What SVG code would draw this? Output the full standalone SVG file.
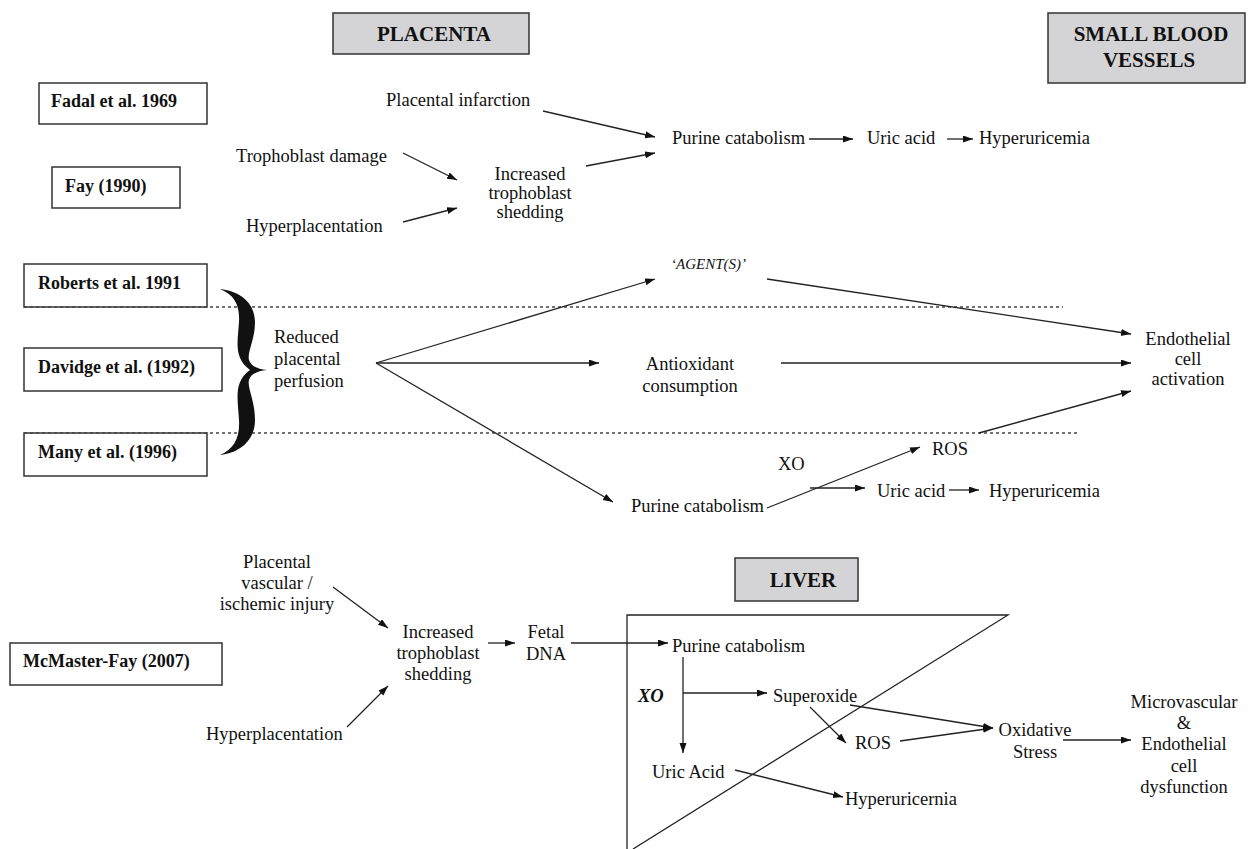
<svg xmlns="http://www.w3.org/2000/svg" width="1258" height="849" viewBox="0 0 1258 849">
<defs>
<marker id="ah" markerUnits="userSpaceOnUse" markerWidth="11" markerHeight="8" refX="10" refY="3.5" orient="auto">
<path d="M0,0 L10,3.5 L0,7 z" fill="#111"/>
</marker>
<style>
.t{font-family:"Liberation Serif","Times New Roman",serif;font-size:18.5px;fill:#111}
.b{font-family:"Liberation Serif","Times New Roman",serif;font-size:18px;font-weight:bold;fill:#111}
.h{font-family:"Liberation Serif","Times New Roman",serif;font-size:21px;font-weight:bold;fill:#111}
.box{fill:#fff;stroke:#333;stroke-width:1.5}
.hbox{fill:#d4d4d6;stroke:#333;stroke-width:1.5}
.c{fill:none;stroke:#222;stroke-width:1.3}
.a{fill:none;stroke:#222;stroke-width:1.3;marker-end:url(#ah)}
.d{fill:none;stroke:#444;stroke-width:1.3;stroke-dasharray:3 3}
.m{text-anchor:middle}
</style>
</defs>
<rect width="1258" height="849" fill="#fff"/>

<g id="hdr-placenta"><rect class="hbox" x="333" y="13" width="196" height="41"/><text class="h m" x="434" y="41">PLACENTA</text></g>
<g id="hdr-vessels"><rect class="hbox" x="1048" y="13" width="197" height="70"/><text class="h m" x="1151" y="41">SMALL BLOOD</text><text class="h m" x="1149" y="67">VESSELS</text></g>
<g id="hdr-liver"><rect class="hbox" x="735" y="558" width="123" height="43"/><text class="h m" x="803" y="587">LIVER</text></g>

<g id="ref-fadal"><rect class="box" x="39" y="83" width="168" height="41"/><text class="b" x="51" y="107">Fadal et al. 1969</text></g>
<g id="ref-fay"><rect class="box" x="52" y="167" width="128" height="41"/><text class="b" x="65" y="192">Fay (1990)</text></g>
<g id="ref-roberts"><rect class="box" x="24" y="264" width="183" height="43"/><text class="b" x="38" y="289">Roberts et al. 1991</text></g>
<g id="ref-davidge"><rect class="box" x="24" y="348" width="198" height="43"/><text class="b" x="38" y="373">Davidge et al. (1992)</text></g>
<g id="ref-many"><rect class="box" x="24" y="433" width="183" height="43"/><text class="b" x="38" y="458">Many et al. (1996)</text></g>
<g id="ref-mcmaster"><rect class="box" x="10" y="643" width="212" height="42"/><text class="b" x="23" y="667">McMaster-Fay (2007)</text></g>

<g id="dividers">
<line class="d" x1="24" y1="307" x2="1063" y2="307"/>
<line class="d" x1="24" y1="433" x2="1077" y2="433"/>
</g>

<g id="brace"><path fill="#111" d="M220,289 C239,291 255,302 255,322 C255,340 247,352 249,360 C251,366 257,369 267,370 C257,371 251,374 249,380 C247,388 255,400 255,420 C255,441 239,453 220,455 C234,449 240,438 239,420 C238,400 233,382 250,370 C233,358 238,340 239,322 C240,304 234,295 220,289 Z"/></g>

<g id="n-infarction"><text class="t" x="386" y="106">Placental infarction</text></g>
<g id="n-troph-damage"><text class="t" x="236" y="162">Trophoblast damage</text></g>
<g id="n-hyperplac1"><text class="t" x="246" y="232">Hyperplacentation</text></g>
<g id="n-shedding1"><text class="t m" x="530" y="180">Increased</text><text class="t m" x="530" y="199">trophoblast</text><text class="t m" x="530" y="218">shedding</text></g>
<g id="n-purine1"><text class="t" x="672" y="144">Purine catabolism</text></g>
<g id="n-uric1"><text class="t" x="867" y="144">Uric acid</text></g>
<g id="n-hyperu1"><text class="t" x="979" y="144">Hyperuricemia</text></g>

<g id="n-reduced"><text class="t" x="274" y="343">Reduced</text><text class="t" x="274" y="365">placental</text><text class="t" x="274" y="387">perfusion</text></g>
<g id="n-agents"><text class="t" x="671" y="269" style="font-style:italic;font-size:15px">‘AGENT(S)’</text></g>
<g id="n-antiox"><text class="t m" x="690" y="370">Antioxidant</text><text class="t m" x="690" y="392">consumption</text></g>
<g id="n-endo"><text class="t m" x="1188" y="345">Endothelial</text><text class="t m" x="1188" y="365">cell</text><text class="t m" x="1188" y="385">activation</text></g>
<g id="n-purine2"><text class="t" x="764" y="512" text-anchor="end">Purine catabolism</text></g>
<g id="n-xo2"><text class="t" x="778" y="470">XO</text></g>
<g id="n-ros2"><text class="t" x="932" y="455">ROS</text></g>
<g id="n-uric2"><text class="t" x="877" y="497">Uric acid</text></g>
<g id="n-hyperu2"><text class="t" x="989" y="497">Hyperuricemia</text></g>

<g id="n-vascular"><text class="t m" x="277" y="568">Placental</text><text class="t m" x="277" y="589">vascular /</text><text class="t m" x="277" y="610">ischemic injury</text></g>
<g id="n-hyperplac2"><text class="t" x="206" y="740">Hyperplacentation</text></g>
<g id="n-shedding2"><text class="t m" x="438" y="638">Increased</text><text class="t m" x="438" y="659">trophoblast</text><text class="t m" x="438" y="680">shedding</text></g>
<g id="n-fetal"><text class="t m" x="546" y="638">Fetal</text><text class="t m" x="546" y="660">DNA</text></g>

<g id="liver-region"><path class="c" d="M627,849 L627,615 L1008,615 L633,849"/></g>
<g id="n-purine3"><text class="t" x="672" y="652">Purine catabolism</text></g>
<g id="n-xo3"><text class="t" x="638" y="702" style="font-weight:bold;font-style:italic">XO</text></g>
<g id="n-superoxide"><text class="t" x="773" y="702">Superoxide</text></g>
<g id="n-ros3"><text class="t" x="855" y="749">ROS</text></g>
<g id="n-uric3"><text class="t" x="652" y="778">Uric Acid</text></g>
<g id="n-hyperu3"><text class="t" x="845" y="805">Hyperuricernia</text></g>
<g id="n-oxstress"><text class="t m" x="1035" y="736">Oxidative</text><text class="t m" x="1035" y="758">Stress</text></g>
<g id="n-micro"><text class="t m" x="1184" y="708">Microvascular</text><text class="t m" x="1184" y="729">&amp;</text><text class="t m" x="1184" y="750">Endothelial</text><text class="t m" x="1184" y="772">cell</text><text class="t m" x="1184" y="793">dysfunction</text></g>

<g id="connectors">
<line class="a" x1="543" y1="111" x2="655" y2="137"/>
<line class="a" x1="586" y1="166" x2="655" y2="153"/>
<line class="a" x1="403" y1="153" x2="457" y2="180"/>
<line class="a" x1="403" y1="222" x2="457" y2="208"/>
<line class="a" x1="809" y1="139" x2="853" y2="139"/>
<line class="a" x1="947" y1="139" x2="973" y2="139"/>

<line class="a" x1="376" y1="363" x2="655" y2="279"/>
<line class="a" x1="376" y1="363" x2="599" y2="363"/>
<line class="a" x1="376" y1="363" x2="613" y2="502"/>
<line class="a" x1="767" y1="279" x2="1131" y2="334"/>
<line class="a" x1="781" y1="363" x2="1131" y2="363"/>
<line class="a" x1="979" y1="433" x2="1131" y2="391"/>
<line class="a" x1="767" y1="508" x2="920" y2="447"/>
<line class="a" x1="810" y1="488" x2="865" y2="488"/>
<line class="a" x1="949" y1="490" x2="979" y2="490"/>

<line class="a" x1="333" y1="587" x2="388" y2="628"/>
<line class="a" x1="347" y1="727" x2="388" y2="686"/>
<line class="a" x1="488" y1="643" x2="515" y2="643"/>
<line class="a" x1="571" y1="643" x2="668" y2="643"/>
<line class="a" x1="683" y1="657" x2="683" y2="753"/>
<line class="a" x1="683" y1="693" x2="767" y2="693"/>
<line class="a" x1="810" y1="707" x2="846" y2="743"/>
<line class="a" x1="850" y1="705" x2="993" y2="728"/>
<line class="a" x1="900" y1="741" x2="993" y2="728"/>
<line class="a" x1="1063" y1="740" x2="1131" y2="740"/>
<line class="a" x1="735" y1="770" x2="843" y2="797"/>
</g>
</svg>
